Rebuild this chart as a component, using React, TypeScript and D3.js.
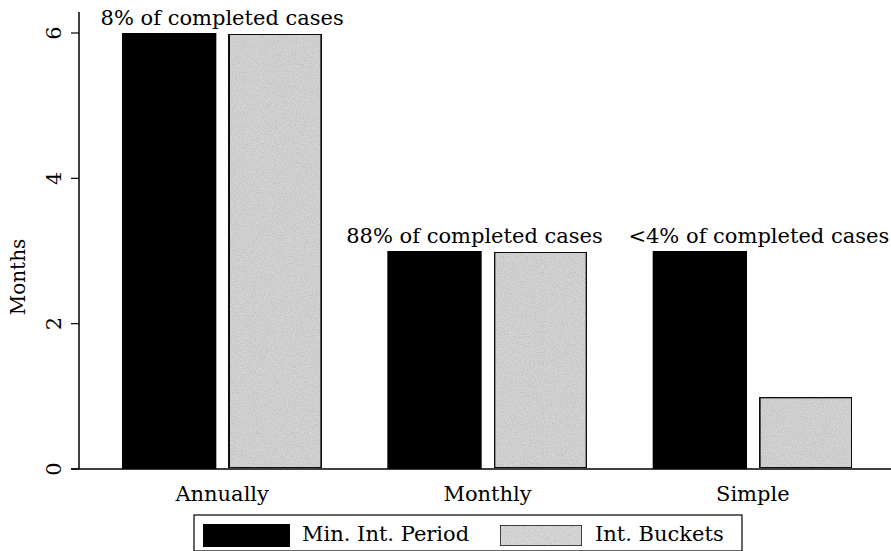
import React from "react";
import * as d3 from "d3";

const categories = ["Annually", "Monthly", "Simple"];
const seriesNames = ["Min. Int. Period", "Int. Buckets"];
const minIntPeriod = [6, 3, 3];
const intBuckets = [6, 3, 1];
const shareLabels = ["8% of completed cases", "88% of completed cases", "<4% of completed cases"];
const yTicks = [0, 2, 4, 6];

// small horizontal nudges for the share labels, as placed in the original
const labelDx = [0, -13, 6];

const W = 891;
const H = 551;
const FONT = "'DejaVu Serif', serif";

export default function App() {
  const x = d3.scaleBand<string>().domain(categories).range([122, 853]).paddingInner(0.245).paddingOuter(0);
  const inner = d3.scaleBand<string>().domain(seriesNames).range([0, x.bandwidth()]).paddingInner(0.11);
  const y = d3.scaleLinear().domain([0, 6]).range([469, 33]);
  const axisX = 79;

  const values = [minIntPeriod, intBuckets];

  return (
    <svg width={W} height={H} style={{ position: "absolute", left: 0, top: 0, background: "#fff" }}>
      <defs>
        <filter id="speckle" x="0" y="0" width="100%" height="100%">
          <feTurbulence type="fractalNoise" baseFrequency="0.9" numOctaves="2" seed="3" result="noise" />
          <feColorMatrix
            in="noise"
            type="matrix"
            values="0 0 0 0 0  0 0 0 0 0  0 0 0 0 0  0 0 0 -1.6 1.0"
            result="dots"
          />
          <feComposite in="dots" in2="SourceGraphic" operator="in" result="clipped" />
          <feComponentTransfer in="clipped" result="soft">
            <feFuncA type="linear" slope="0.3" />
          </feComponentTransfer>
          <feMerge>
            <feMergeNode in="SourceGraphic" />
            <feMergeNode in="soft" />
          </feMerge>
        </filter>
      </defs>

      {/* y axis */}
      <line x1={axisX} x2={axisX} y1={12} y2={y(0)} stroke="#000" strokeWidth={1.5} />
      <line x1={71} x2={W} y1={y(0)} y2={y(0)} stroke="#000" strokeWidth={1.5} />
      {yTicks.map((t) => (
        <g key={t}>
          <line x1={71} x2={axisX} y1={y(t)} y2={y(t)} stroke="#000" strokeWidth={1.2} />
          <text
            transform={`translate(61,${y(t)}) rotate(-90)`}
            textAnchor="middle"
            fontFamily={FONT}
            fontSize={21}
          >
            {t}
          </text>
        </g>
      ))}
      <text transform="translate(25,277) rotate(-90)" textAnchor="middle" fontFamily={FONT} fontSize={20}>
        Months
      </text>

      {/* bars */}
      {categories.map((c, i) => {
        const gx = x(c) ?? 0;
        const top = Math.max(minIntPeriod[i], intBuckets[i]);
        return (
          <g key={c}>
            {seriesNames.map((s, j) => {
              const v = values[j][i];
              const bx = gx + (inner(s) ?? 0);
              return j === 0 ? (
                <rect key={s} x={bx} y={y(v)} width={inner.bandwidth()} height={y(0) - y(v)} fill="#000" />
              ) : (
                <rect
                  key={s}
                  x={bx + 1}
                  y={y(v) + 1}
                  width={inner.bandwidth() - 2}
                  height={y(0) - y(v) - 2}
                  fill="#d4d4d4"
                  stroke="#111"
                  strokeWidth={2}
                  filter="url(#speckle)"
                />
              );
            })}
            <text
              x={gx + x.bandwidth() / 2 + labelDx[i]}
              y={y(top) - 8}
              textAnchor="middle"
              fontFamily={FONT}
              fontSize={21}
            >
              {shareLabels[i]}
            </text>
            <text x={gx + x.bandwidth() / 2} y={501} textAnchor="middle" fontFamily={FONT} fontSize={21}>
              {c}
            </text>
          </g>
        );
      })}

      {/* legend */}
      <rect x={194} y={515} width={548} height={36} fill="#fff" stroke="#000" strokeWidth={1.2} />
      <rect x={203} y={524} width={87} height={23} fill="#000" />
      <text x={302} y={541} fontFamily={FONT} fontSize={21}>
        {seriesNames[0]}
      </text>
      <rect x={500} y={525} width={82} height={21} fill="#d8d8d8" stroke="#111" strokeWidth={1.5} filter="url(#speckle)" />
      <text x={595} y={541} fontFamily={FONT} fontSize={21}>
        {seriesNames[1]}
      </text>
    </svg>
  );
}
